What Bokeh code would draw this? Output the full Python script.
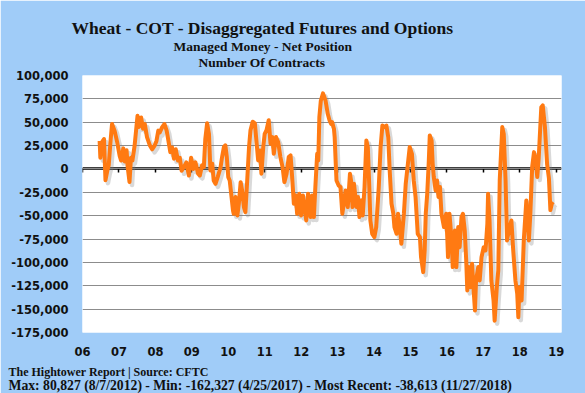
from bokeh.plotting import figure
from bokeh.models import (Range1d, LinearAxis, FixedTicker, NumeralTickFormatter,
                          Title, ColumnDataSource)
from bokeh.embed import file_html
from bokeh.resources import INLINE

# ---------------- data ----------------
dates = [
    2006.47, 2006.49, 2006.54, 2006.59, 2006.63, 2006.68, 2006.72, 2006.77, 2006.81, 2006.88, 2006.95,
    2007.02, 2007.06, 2007.12, 2007.16, 2007.21, 2007.24, 2007.29, 2007.33, 2007.37, 2007.43, 2007.47,
    2007.51, 2007.55, 2007.61, 2007.66, 2007.71, 2007.77, 2007.85, 2007.91, 2007.98,
    2008.03, 2008.08, 2008.12, 2008.19, 2008.25, 2008.31, 2008.35, 2008.41, 2008.46, 2008.51, 2008.56,
    2008.62, 2008.67, 2008.72, 2008.78, 2008.85, 2008.92, 2008.98,
    2009.04, 2009.10, 2009.17, 2009.22, 2009.28, 2009.33, 2009.37, 2009.42, 2009.47, 2009.51, 2009.56,
    2009.60, 2009.65, 2009.71, 2009.79, 2009.83, 2009.88, 2009.92, 2009.96,
    2010.00, 2010.04, 2010.09, 2010.13, 2010.15, 2010.20, 2010.25, 2010.29, 2010.34, 2010.38, 2010.43,
    2010.47, 2010.52, 2010.57, 2010.61, 2010.67, 2010.73, 2010.78, 2010.82, 2010.87, 2010.91, 2010.96,
    2011.00, 2011.05, 2011.11, 2011.16, 2011.21, 2011.25, 2011.31, 2011.37, 2011.43, 2011.49, 2011.54,
    2011.60, 2011.66, 2011.71, 2011.75, 2011.80, 2011.85, 2011.89, 2011.95,
    2012.00, 2012.05, 2012.09, 2012.14, 2012.19, 2012.26, 2012.30, 2012.35, 2012.39, 2012.44, 2012.47,
    2012.50, 2012.54, 2012.60, 2012.67, 2012.73, 2012.78, 2012.82, 2012.85, 2012.90, 2012.92, 2012.95,
    2012.97,
    2013.03, 2013.08, 2013.13, 2013.17, 2013.22, 2013.24, 2013.28, 2013.34, 2013.37, 2013.41, 2013.45,
    2013.48, 2013.52, 2013.56, 2013.60, 2013.65, 2013.69, 2013.74, 2013.79, 2013.83, 2013.87, 2013.90,
    2013.95,
    2014.01, 2014.06, 2014.13, 2014.18, 2014.23, 2014.28, 2014.34, 2014.39, 2014.43, 2014.48, 2014.53,
    2014.56, 2014.62, 2014.66, 2014.71, 2014.75, 2014.82, 2014.87, 2014.93, 2014.98,
    2015.04, 2015.09, 2015.14, 2015.20, 2015.26, 2015.29, 2015.35, 2015.39, 2015.42, 2015.46, 2015.50,
    2015.53, 2015.58, 2015.61, 2015.64, 2015.69, 2015.73, 2015.77, 2015.81, 2015.85, 2015.92, 2015.98,
    2016.01, 2016.03, 2016.07, 2016.13, 2016.16, 2016.22, 2016.26, 2016.31, 2016.35, 2016.40, 2016.44,
    2016.49, 2016.53, 2016.56, 2016.60, 2016.65, 2016.69, 2016.74, 2016.77, 2016.80, 2016.86, 2016.90,
    2016.95,
    2017.01, 2017.06, 2017.11, 2017.13, 2017.17, 2017.22, 2017.28, 2017.31, 2017.37, 2017.41, 2017.45,
    2017.52, 2017.56, 2017.61, 2017.65, 2017.70, 2017.77, 2017.82, 2017.88, 2017.93, 2017.96, 2017.99,
    2018.05, 2018.11, 2018.18, 2018.22, 2018.25, 2018.29, 2018.34, 2018.39, 2018.43, 2018.48, 2018.52,
    2018.59, 2018.63, 2018.69, 2018.75, 2018.80, 2018.84, 2018.88, 2018.91,
]

# managed money net position, thousands of contracts
net_k = [
    30, 12, 29, 32, -12, -2, 4, 30, 48, 41, 29,
    14, 9, 22, 8, 20, 2, -14, 12, 9, 25, 41,
    57, 45, 55, 43, 48, 34, 25, 21, 25,
    30, 41, 39, 45, 48, 41, 32, 18, 23, 11, 21,
    9, 12, -2, 2, 7, -7, 12,
    0, 7, -5, -7, 4, 2, 32, 48.8, 37.6, -1.6, 5.7,
    -12.3, -15.9, -8.7, 2, 12.7, 23.4, 25.3, 12.7,
    -8.7, -12.3, -30.1, -44.4, -47.9, -30.1, -49.7, -37.2, -14.1, -23.0, -40.8,
    -46.2, -12.3, 23.4, 41.5, 50.6, 48.8, 27, 9.1, 19.8, -5.1, 23.4,
    37.6, 41.5, 52.2, 27, 34.1, 16.2, 34.1, 28.8, 12.7, 2, -14.1,
    -5.1, 12.7, 14.5, -6.9, -37.2, -28.3, -47.9, -26.6,
    -49.7, -28.3, -40.8, -55.1, -26.6, -51.5, -28.3, -51.5, -19.4, 16.2, 9.1,
    55.5, 73, 80.827, 73.3, 59.0, 51.9, 48.3, 50.1, 43.0, 34.1, 5.5,
    -12.3,
    -17.7, -19.4, -47.9, -37.2, -23, -33.7, -40.8, -5.1, -12.3, -40.8, -15.9,
    -26.6, -40.8, -30.1, -51.5, -33.7, -49.7, -19.4, 30.5, 23.4, -19.4, -55.1,
    -69.4,
    -72.9, -62.2, -19.4, 23.4, 46.5, 44.8, 46.5, 34.1, -1.6, -37.2, -47.9,
    -62.2, -69.4, -47.9, -62.2, -80.1, -47.9, -15.9, 5.5, 23.4,
    16.2, -12.3, -30.1, -69.4, -72.9, -94.3, -110.4, -87.2, -47.9, -26.6, 5.5,
    35.8, 30.5, 5.5, -8.7, -23, -12.3, -30, -19.4, -47.9, -62.2, -47.9,
    -73, -94.3, -47.9, -76.5, -105, -65.8, -105, -62.2, -83.7, -51.5, -47.9,
    -65.8, -97.9, -130, -105, -126.5, -101.5, -133.6, -151.4, -119.3, -105, -119.3,
    -94.3,
    -83.7, -87.2, -58.7, -26.6, -55.1, -119.3, -140.7, -162.327, -126.5, -108.6, -12.3,
    44.8, 37.6, -12.3, -76.5, -65.8, -55.1, -87.2, -119.3, -133.6, -158.6, -126.5,
    -140.7, -76.5, -33.7, -55.1, -76.5, -47.9, 2.0, 18, 12, -8.7, 12,
    66, 68, 45, 5, -10, -44, -37, -38.613,
]

year_ticks = list(range(2006, 2020))
year_labels = ["06", "07", "08", "09", "10", "11", "12", "13", "14", "15", "16", "17", "18", "19"]
value_ticks = list(range(-175000, 100001, 25000))

title_text = "Wheat - COT - Disaggregated Futures and Options"
subtitle_1 = "Managed Money - Net Position"
subtitle_2 = "Number Of Contracts"
footer_1 = "The Hightower Report | Source: CFTC"
footer_2 = ("Max: 80,827 (8/7/2012)  -  Min: -162,327 (4/25/2017) - "
            "Most Recent: -38,613 (11/27/2018)")

# ---------------- styling ----------------
BLUE_BG = "#A0CCF8"
ORANGE = "#FF7A12"
GRID = "#8C8C8C"
TXT = "#111111"
SERIF = "Liberation Serif"
SANS = "DejaVu Sans"

X0, X1 = 2006.0, 2019.145
Y0, Y1 = -175000, 100000
FW, FH = 479, 257

src = ColumnDataSource(dict(x=dates, y=[v * 1000 for v in net_k]))

p = figure(width=585, height=393,
           x_range=Range1d(X0, X1), y_range=Range1d(Y0, Y1),
           output_backend="svg", toolbar_location=None, title=None,
           min_border_left=82, min_border_right=24,
           min_border_top=75, min_border_bottom=61,
           background_fill_color="white", border_fill_color=BLUE_BG,
           outline_line_color=None)

# grid
p.xgrid.visible = False
p.ygrid.ticker = FixedTicker(ticks=value_ticks)
p.ygrid.grid_line_color = GRID
p.ygrid.grid_line_width = 1

# bottom x axis: labels only
xa = p.xaxis[0]
xa.ticker = FixedTicker(ticks=year_ticks)
xa.major_label_overrides = {t: l for t, l in zip(year_ticks, year_labels)}
xa.axis_line_color = None
xa.major_tick_line_color = None
xa.minor_tick_line_color = None
xa.major_tick_out = 0
xa.major_tick_in = 0
xa.major_label_standoff = 14
xa.major_label_text_font = SANS
xa.major_label_text_font_style = "bold"
xa.major_label_text_font_size = "11.5px"
xa.major_label_text_color = TXT

# y axis
ya = p.yaxis[0]
ya.ticker = FixedTicker(ticks=value_ticks)
ya.formatter = NumeralTickFormatter(format="0,0")
ya.axis_line_color = None
ya.major_tick_line_color = None
ya.minor_tick_line_color = None
ya.major_tick_out = 0
ya.major_tick_in = 0
ya.major_label_standoff = 14
ya.major_label_text_font = SANS
ya.major_label_text_font_style = "bold"
ya.major_label_text_font_size = "11.5px"
ya.major_label_text_color = TXT

# zero line with year tick marks
zero_axis = LinearAxis(fixed_location=0, ticker=FixedTicker(ticks=year_ticks),
                       axis_line_color="black", axis_line_width=2.5,
                       major_tick_line_color="black", major_tick_line_width=1.5,
                       major_tick_out=4, major_tick_in=0,
                       minor_tick_line_color=None,
                       major_label_text_color=None, major_label_text_font_size="0px")
zero_axis.level = "underlay"
p.add_layout(zero_axis, "below")

# invisible spacer between the year labels and the footer lines
spacer = LinearAxis(ticker=FixedTicker(ticks=[]), axis_line_color=None,
                    major_tick_line_color=None, minor_tick_line_color=None,
                    major_tick_out=0, major_tick_in=0, major_label_standoff=8,
                    major_label_text_color=None)
p.add_layout(spacer, "below")

# soft drop shadow: same series through ranges shifted by a few pixels
dx = 2.5 * (X1 - X0) / FW
dy = 3.0 * (Y1 - Y0) / FH
p.extra_x_ranges = {"shadow": Range1d(X0 - dx, X1 - dx)}
p.extra_y_ranges = {"shadow": Range1d(Y0 + dy, Y1 + dy)}
p.line("x", "y", source=src, x_range_name="shadow", y_range_name="shadow",
       line_color="#808080", line_alpha=0.3, line_width=4.5, line_join="round")

p.line("x", "y", source=src, line_color=ORANGE, line_width=4, line_join="round")


def add_title(text, place, size, offset, standoff):
    p.add_layout(Title(text=text, align="left", offset=offset, standoff=standoff,
                       text_font=SERIF, text_font_style="bold", text_font_size=size,
                       text_color=TXT), place)


# above: first added sits nearest the plot
add_title(subtitle_2, "above", "13.5px", 116, 12)
add_title(subtitle_1, "above", "13.5px", 91, -14)
add_title(title_text, "above", "17.5px", -11, 12)
# below, after the x axis and spacer
add_title(footer_1, "below", "12px", -74, 8)
add_title(footer_2, "below", "13.7px", -74, -20)

open("out.html", "w").write(file_html(p, INLINE))
